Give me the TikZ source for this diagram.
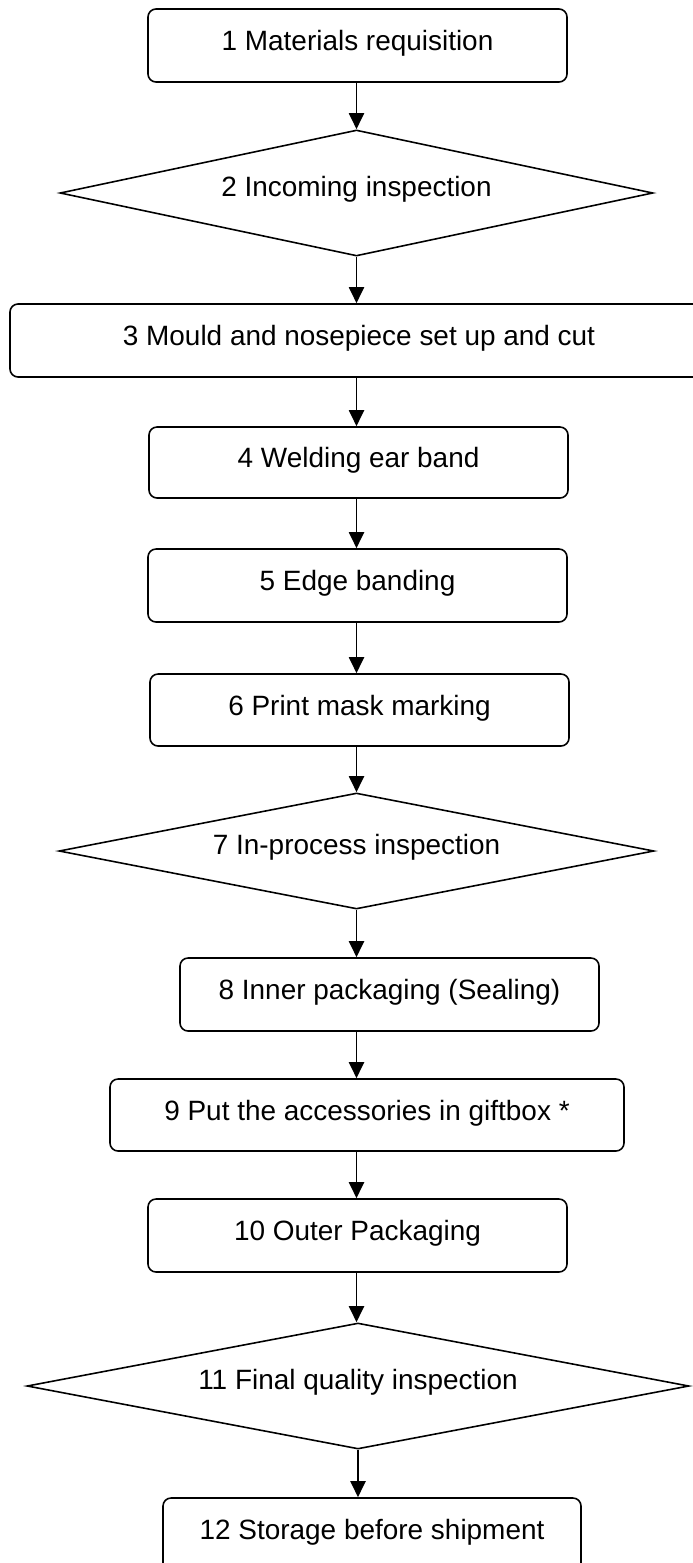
\documentclass[tikz,border=0pt]{standalone}
\usepackage{fontspec}
\setmainfont{Liberation Sans}
\usepackage{tikz}
\usetikzlibrary{positioning}
\usetikzlibrary{shapes.geometric}
\usetikzlibrary{arrows.meta}
\tikzset{mybox/.style={draw, rounded corners=0.16cm, line width=0.9pt, minimum width=8.38cm, minimum height=1.46cm, text height=0.4cm, text depth=0.2cm}}
\tikzset{myboxWide/.style={mybox, minimum width=10.28cm}}
\tikzset{mydiamond/.style={draw, diamond, aspect=4.7, inner sep=0pt, line width=0.9pt, minimum width=11.86cm, minimum height=2.52cm, text height=0.4cm, text depth=0.25cm}}
\tikzset{myarrow/.style={->, line width=1.1pt}}

\begin{document}
\begin{tikzpicture}[>={Triangle[length=0.32cm, width=0.3cm]}, font=\fontsize{15.9}{19}\selectfont]

\useasboundingbox (0,0) rectangle (13.86,-31.26);

\coordinate (spine) at (7.13, 0);

\node[mybox] (req) at (7.15, -0.91) {1 Materials requisition};
\node[mydiamond] (incoming) at (7.13, -3.86) {2 Incoming inspection};
\node[mybox, minimum width=13.96cm] (mould) at (7.18, -6.81) {3 Mould and nosepiece set up and cut};
\node[mybox, minimum height=1.42cm] (weld) at (7.17, -9.25) {4 Welding ear band};
\node[mybox] (edge) at (7.15, -11.71) {5 Edge banding};
\node[mybox, minimum height=1.44cm] (print) at (7.19, -14.2) {6 Print mask marking};
\node[mydiamond, minimum width=11.9cm, minimum height=2.32cm] (inproc) at (7.13, -17.02) {7 In-process inspection};
\node[mybox] (inner) at (7.79, -19.89) {8 Inner packaging (Sealing)};
\node[myboxWide, minimum height=1.44cm] (gift) at (7.34, -22.30) {9 Put the accessories in giftbox *};
\node[mybox] (outer) at (7.15, -24.71) {10 Outer Packaging};
\node[mydiamond, minimum width=13.24cm, aspect=5.25] (final) at (7.16, -27.72) {11 Final quality inspection};
\node[mybox, minimum width=8.36cm] (store) at (7.44, -30.69) {12 Storage before shipment};

\draw[myarrow] (req.south -| spine) to (incoming.north -| spine);
\draw[myarrow] (incoming.south -| spine) to (mould.north -| spine);
\draw[myarrow] (mould.south -| spine) to (weld.north -| spine);
\draw[myarrow] (weld.south -| spine) to (edge.north -| spine);
\draw[myarrow] (edge.south -| spine) to (print.north -| spine);
\draw[myarrow] (print.south -| spine) to (inproc.north -| spine);
\draw[myarrow] (inproc.south -| spine) to (inner.north -| spine);
\draw[myarrow] (inner.south -| spine) to (gift.north -| spine);
\draw[myarrow] (gift.south -| spine) to (outer.north -| spine);
\draw[myarrow] (outer.south -| spine) to (final.north -| spine);
\draw[myarrow] (final.south) to (final.south |- store.north);

\end{tikzpicture}
\end{document}
